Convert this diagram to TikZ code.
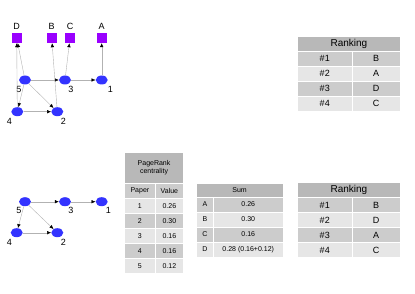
\documentclass[tikz,border=0pt]{standalone}
\usepackage{fontspec}
\setmainfont{Liberation Sans}
\usetikzlibrary{arrows.meta,positioning,shapes.geometric}
\definecolor{prblue}{HTML}{3333FF}
\definecolor{prpurple}{HTML}{9900FF}
\definecolor{prdark}{HTML}{B8B8B8}
\definecolor{prmid}{HTML}{CCCCCC}
\definecolor{prlight}{HTML}{E6E6E6}

\begin{document}
\begin{tikzpicture}[x=1pt, y=-1pt, every node/.style={font=\small},
  paper/.style={fill=prblue, ellipse, minimum width=12pt, minimum height=9pt, inner sep=0},
  author/.style={fill=prpurple, minimum size=10pt, inner sep=0},
  link/.style={draw=gray!60, line width=0.4pt, -{Latex[length=4pt,width=3.5pt,black]}},
  cell/.style={draw=white, line width=0.5pt, anchor=north west, inner sep=0, minimum height=15pt}]
  \useasboundingbox (0,0) rectangle (415,294);

  % Citation graph with authors
  \node[author] (aD) at (16.7,38) {};
  \node[author] (aB) at (51.7,38) {};
  \node[author] (aC) at (70,38) {};
  \node[author] (aA) at (101.7,38) {};
  \node (tD) at (16.7,26) {D};
  \node (tB) at (51.7,26) {B};
  \node (tC) at (70,26) {C};
  \node (tA) at (101.7,26) {A};

  \node[paper] (p5) at (25,80) {};
  \node[paper] (p3) at (65,80) {};
  \node[paper] (p1) at (101.7,80) {};
  \node[paper] (p4) at (17.3,111.7) {};
  \node[paper] (p2) at (57.3,111.7) {};
  \node (l5) at (19,89) {5};
  \node (l3) at (71,89) {3};
  \node (l1) at (110.5,89) {1};
  \node (l4) at (9.3,121.7) {4};
  \node (l2) at (63.3,121.7) {2};

  \draw[link] (p5) -- (p3);
  \draw[link] (p3) -- (p1);
  \draw[link] (p5) -- (p4);
  \draw[link] (p5) -- (p2);
  \draw[link] (p4) -- (p2);
  \draw[link] (p5) -- (aD);
  \draw[link] (p4) -- (aD);
  \draw[link] (p2) -- (aB);
  \draw[link] (p3) -- (aC);
  \draw[link] (p1) -- (aA);

  % Citation graph alone
  \node[paper] (q5) at (25,201.7) {};
  \node[paper] (q3) at (65,201.7) {};
  \node[paper] (q1) at (101.7,201.7) {};
  \node[paper] (q4) at (16.7,232.7) {};
  \node[paper] (q2) at (57.3,232.7) {};
  \node (m5) at (19,210.7) {5};
  \node (m3) at (71,210.7) {3};
  \node (m1) at (108.5,210.7) {1};
  \node (m4) at (9.3,242.7) {4};
  \node (m2) at (63.3,242.7) {2};

  \draw[link] (q5) -- (q3);
  \draw[link] (q3) -- (q1);
  \draw[link] (q5) -- (q4);
  \draw[link] (q5) -- (q2);
  \draw[link] (q4) -- (q2);

  % Ranking of authors (top)
  \node[cell, fill=prdark, minimum width=102.7pt, font=\normalsize] (rkhead) at (297.3,36) {Ranking};
  \foreach \n/\a/\c [count=\i] in {\#1/B/prmid,\#2/A/prlight,\#3/D/prmid,\#4/C/prlight}{
    \node[cell, fill=\c, minimum width=54.4pt] (rk\i a) at (297.3,36+15*\i) {\n};
    \node[cell, fill=\c, minimum width=48.3pt] (rk\i b) at (351.7,36+15*\i) {\a};
  }

  % PageRank centrality
  \node[cell, fill=prdark, minimum width=59pt, minimum height=31.6pt, align=center, font=\scriptsize] (prhead) at (124.3,151.7) {PageRank\\centrality};
  \node[cell, fill=prmid, minimum width=30.7pt, font=\scriptsize] (prpaper) at (124.3,183.3) {Paper};
  \node[cell, fill=prmid, minimum width=28.3pt, font=\scriptsize] (prvalue) at (155,183.3) {Value};
  \foreach \p/\v/\c [count=\i] in {1/0.26/prlight,2/0.30/prmid,3/0.16/prlight,4/0.16/prmid,5/0.12/prlight}{
    \node[cell, fill=\c, minimum width=30.7pt, font=\scriptsize] (pr\i a) at (124.3,183.3+15*\i) {\p};
    \node[cell, fill=\c, minimum width=28.3pt, font=\scriptsize] (pr\i b) at (155,183.3+15*\i) {\v};
  }

  % Sum per author
  \node[cell, fill=prdark, minimum width=86.7pt, minimum height=13.4pt, font=\scriptsize] (sumhead) at (196,183.3) {Sum};
  \foreach \a/\v/\c [count=\i] in {A/0.26/prmid,B/0.30/prlight,C/0.16/prmid,D/{0.28 (0.16+0.12)}/prlight}{
    \node[cell, fill=\c, minimum width=17.3pt, font=\scriptsize] (sum\i a) at (196,181.7+15*\i) {\a};
    \node[cell, fill=\c, minimum width=69.4pt, font=\scriptsize] (sum\i b) at (213.3,181.7+15*\i) {\v};
  }

  % Ranking of authors (bottom)
  \node[cell, fill=prdark, minimum width=102.7pt, font=\normalsize] (rbhead) at (297.3,182.3) {Ranking};
  \foreach \n/\a/\c [count=\i] in {\#1/B/prmid,\#2/D/prlight,\#3/A/prmid,\#4/C/prlight}{
    \node[cell, fill=\c, minimum width=54.4pt] (rb\i a) at (297.3,182.3+15*\i) {\n};
    \node[cell, fill=\c, minimum width=48.3pt] (rb\i b) at (351.7,182.3+15*\i) {\a};
  }
\end{tikzpicture}
\end{document}
